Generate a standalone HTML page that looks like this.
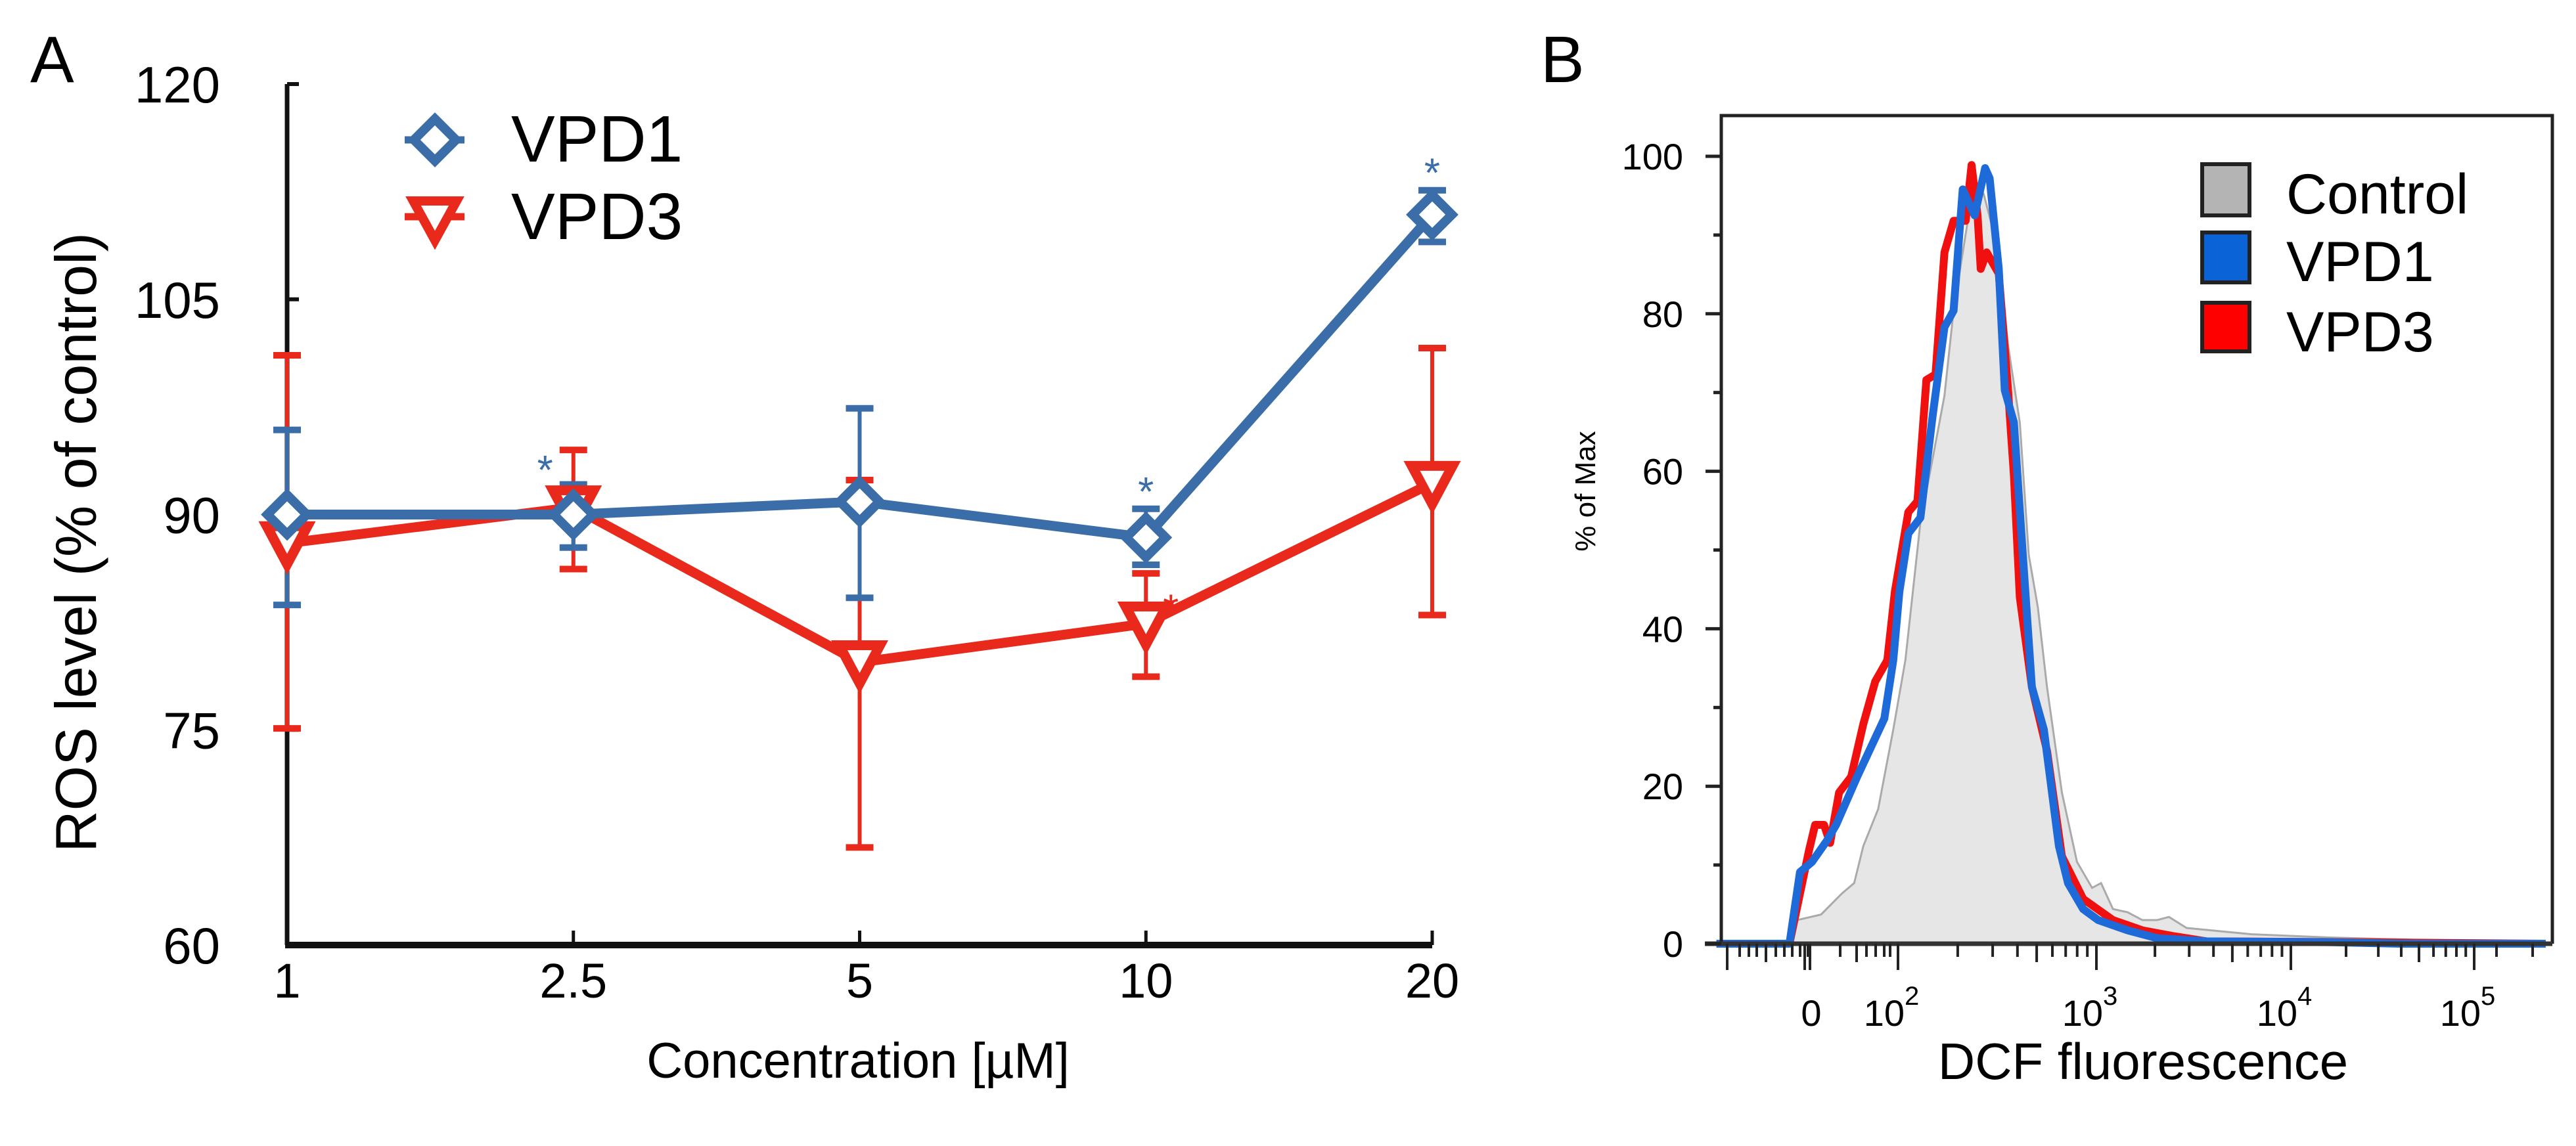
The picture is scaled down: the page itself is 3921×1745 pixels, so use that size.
<!DOCTYPE html>
<html><head><meta charset="utf-8"><style>
html,body{margin:0;padding:0;background:#fff;}
svg{display:block;font-family:"Liberation Sans",Arial,sans-serif;}
</style></head><body>
<svg id="fig" width="3921" height="1745" viewBox="0 0 3921 1745" xmlns="http://www.w3.org/2000/svg">
<rect width="3921" height="1745" fill="#fff"/>
<g id="panelA">
  <text x="46" y="125" font-size="100">A</text>
  <text transform="translate(146,826) rotate(-90)" text-anchor="middle" font-size="88">ROS level (% of control)</text>
  <text x="1306" y="1641" text-anchor="middle" font-size="76">Concentration [µM]</text>
  <g id="aAxes"></g>
  <g id="aSeries"></g>
  <g>
    <line x1="616" y1="213" x2="707" y2="213" stroke="#3b6ea8" stroke-width="11"/>
    <polygon points="662,181 694,213 662,245 630,213" fill="#fff" stroke="#3b6ea8" stroke-width="14"/>
    <text x="778" y="246" font-size="100">VPD1</text>
    <line x1="616" y1="330" x2="707" y2="330" stroke="#e8291c" stroke-width="11"/>
    <polygon points="629,306 695,306 662,366" fill="#fff" stroke="#e8291c" stroke-width="14"/>
    <text x="778" y="364" font-size="100">VPD3</text>
  </g>
</g>
<g id="panelB">
  <text x="2345" y="125" font-size="100">B</text>
  <text transform="translate(2428,748) rotate(-90)" text-anchor="middle" font-size="44">% of Max</text>
  <text x="3262" y="1643" text-anchor="middle" font-size="78">DCF fluorescence</text>
  <g id="bHist"></g>
  <g id="bAxes"></g>
  <g>
    <rect x="3352" y="250" width="72" height="78" fill="#b4b4b4" stroke="#222" stroke-width="6"/>
    <text x="3480" y="325" font-size="86">Control</text>
    <rect x="3352" y="354" width="72" height="76" fill="#0a64d8" stroke="#222" stroke-width="6"/>
    <text x="3480" y="428" font-size="86">VPD1</text>
    <rect x="3352" y="461" width="72" height="74" fill="#ff0000" stroke="#222" stroke-width="6"/>
    <text x="3480" y="535" font-size="86">VPD3</text>
  </g>
</g>
</svg>
<script>
// ---------- Panel A data ----------
const concLabels = ["1","2.5","5","10","20"];
const vpd1Mean = [90.0, 90.0, 90.9, 88.4, 110.9];
const vpd1Hi   = [95.9, 92.1, 97.4, 90.4, 112.6];
const vpd1Lo   = [83.7, 87.7, 84.2, 86.5, 109.0];
const vpd3Mean = [88.0, 90.5, 79.7, 82.4, 92.2];
const vpd3Hi   = [101.1, 94.5, 92.4, 85.9, 101.6];
const vpd3Lo   = [75.1, 86.2, 66.8, 78.7, 83.0];
const yTicksA  = [60, 75, 90, 105, 120];
// ---------- Panel B data (x in log10 fluorescence units, y in % of max) ----------
const ctrlX = [1.453,1.491,1.612,1.718,1.779,1.825,1.900,1.976,2.037,2.113,2.174,2.234,2.280,2.356,2.401,2.432,2.508,2.553,2.614,2.659,2.705,2.751,2.826,2.902,2.978,3.024,3.085,3.160,3.236,3.312,3.373,3.464,3.8,4.2,4.67,4.75];
const ctrlY = [0,3,3.7,6.4,7.7,12.4,17.1,27.2,36,53.5,61.5,69.6,80.4,92.5,96.5,95.2,87.8,76.3,66.2,49.4,42.7,32.6,19.2,10.4,7.1,7.7,4.4,4.0,3.0,3.0,3.4,2.0,1.2,0.8,0.5,0];
const redX = [1.085,1.453,1.551,1.582,1.627,1.658,1.703,1.764,1.825,1.885,1.946,1.984,2.052,2.098,2.143,2.189,2.234,2.280,2.341,2.371,2.401,2.417,2.447,2.508,2.553,2.584,2.614,2.675,2.751,2.826,2.933,3.085,3.236,3.388,3.567,4.3,5.39];
const redY = [0,0,11.8,15.1,15.1,12.8,19.2,21.2,27.9,33.3,36,44.7,54.8,56.2,71.6,72.3,87.8,91.8,91.8,98.9,92.5,85.7,87.8,85.1,70.9,59.5,44,32.6,24.5,11.1,5.7,3.0,1.7,1.0,0.3,0.2,0];
const blueX = [1.085,1.453,1.506,1.567,1.642,1.688,1.794,1.931,1.976,2.007,2.052,2.113,2.174,2.234,2.280,2.326,2.386,2.439,2.462,2.508,2.538,2.584,2.629,2.675,2.735,2.811,2.857,2.933,3.009,3.160,3.312,3.567,4.2,4.6,5.39];
const blueY = [0,0,9.1,10.4,13.1,15.1,21.2,28.6,36,44.7,52.1,54.1,66.9,78.3,80.4,95.8,92.5,98.5,97.2,85.7,70.3,66.2,49.4,32.6,27.2,12.4,7.7,4.4,3.0,1.7,0.7,0.3,0.2,0,0];
const yTicksB = [0,20,40,60,80,100];
const xMajorB = [2,3,4,5];

const NS = "http://www.w3.org/2000/svg";
function mk(tag, attrs, parent){ const e=document.createElementNS(NS,tag); for(const k in attrs) e.setAttribute(k,attrs[k]); parent.appendChild(e); return e; }

// ---------- Panel A ----------
const aL=437, aR=2180, aTop=128, aBot=1439;
const ax = i => aL + i*(aR-aL)/(concLabels.length-1);
const ay = v => aBot - (v-60)*(aBot-aTop)/60;
const gA = document.getElementById('aAxes');
const yAxA = mk('line',{x1:aL,y1:aTop,x2:aL,y2:aBot,stroke:'#111','stroke-width':7},gA);


const xAxA = mk('line',{x1:aL-3,y1:aBot,x2:aR,y2:aBot,stroke:'#111','stroke-width':10},gA);


yTicksA.forEach(v=>{
  mk('line',{x1:aL,y1:ay(v),x2:aL+18,y2:ay(v),stroke:'#111','stroke-width':6},gA);
  const t=mk('text',{x:335,y:ay(v)+28,'text-anchor':'end','font-size':78},gA);
  t.textContent=v;
  
  
});
concLabels.forEach((c,i)=>{
  if(i>0) mk('line',{x1:ax(i),y1:aBot,x2:ax(i),y2:aBot-22,stroke:'#111','stroke-width':5},gA);
  const t=mk('text',{x:ax(i),y:1519,'text-anchor':'middle','font-size':74},gA);
  t.textContent=c;
  
  
});
const gS=document.getElementById('aSeries');
function errBars(mean,hi,lo,col,name){
  mean.forEach((m,i)=>{
    const g=mk('g',{},gS);
    
    
    mk('line',{x1:ax(i),y1:ay(hi[i]),x2:ax(i),y2:ay(lo[i]),stroke:col,'stroke-width':6},g);
    [hi[i],lo[i]].forEach(v=>mk('line',{x1:ax(i)-21,y1:ay(v),x2:ax(i)+21,y2:ay(v),stroke:col,'stroke-width':10},g));
  });
}
function seriesLine(mean,col,name){
  const p=mk('polyline',{points:mean.map((m,i)=>ax(i)+','+ay(m)).join(' '),fill:'none',stroke:col,'stroke-width':15,'stroke-linejoin':'round'},gS);
  
  
}
const BLUE='#3b6ea8', RED='#e8291c';
errBars(vpd3Mean,vpd3Hi,vpd3Lo,RED,'vpd3');
errBars(vpd1Mean,vpd1Hi,vpd1Lo,BLUE,'vpd1');
seriesLine(vpd3Mean,RED,'vpd3');
vpd3Mean.forEach((m,i)=>{
  const x=ax(i), y=ay(m);
  const tri=mk('polygon',{points:`${x-31},${y-26} ${x+31},${y-26} ${x},${y+32}`,fill:'#fff',stroke:RED,'stroke-width':15,'stroke-linejoin':'miter'},gS);
  
  
});
seriesLine(vpd1Mean,BLUE,'vpd1');
vpd1Mean.forEach((m,i)=>{
  const x=ax(i), y=ay(m);
  const d=mk('polygon',{points:`${x},${y-30} ${x+30},${y} ${x},${y+30} ${x-30},${y}`,fill:'#fff',stroke:BLUE,'stroke-width':14},gS);
  
  
});
// significance asterisks
const starIdx1=[1,3,4], starIdx3=[3];
starIdx1.forEach(i=>{
  const off = i===1 ? -43 : 0;
  const top = i===1 ? vpd1Hi[i]+1.4 : vpd1Hi[i]+1.6;
  const s=mk('text',{x:ax(i)+off,y:ay(top)+30,'text-anchor':'middle','font-size':62,fill:BLUE},gS);
  s.textContent='*';
  
  
});
starIdx3.forEach(i=>{
  const s=mk('text',{x:ax(i)+38,y:ay(vpd3Mean[i]+1.6)+34,'text-anchor':'middle','font-size':62,fill:RED},gS);
  s.textContent='*';
  
  
});

// ---------- Panel B ----------
const bL=2620, bR=3885, bTop=176, bBot=1437;
const by = v => bBot - v*(bBot-238)/100;
const kD=[2,3,4,5], kX=[2889,3191,3487,3766];
function bx(d){
  if(d<=kD[0]) return kX[0]-(kD[0]-d)*302;
  for(let i=0;i<kD.length-1;i++) if(d<=kD[i+1]) return kX[i]+(d-kD[i])*(kX[i+1]-kX[i]);
  return kX[3]+(d-5)*279;
}
const gH=document.getElementById('bHist');
function pts(X,Y){ return X.map((d,i)=>bx(d).toFixed(1)+','+by(Y[i]).toFixed(1)).join(' '); }
const ctrlFill=mk('polygon',{points:pts(ctrlX,ctrlY),fill:'#e6e6e6',stroke:'#aaaaaa','stroke-width':3},gH);


const redLine=mk('polyline',{points:pts(redX,redY),fill:'none',stroke:'#f01010','stroke-width':12,'stroke-linejoin':'round'},gH);


const blueLine=mk('polyline',{points:pts(blueX,blueY),fill:'none',stroke:'#1e6ad8','stroke-width':12,'stroke-linejoin':'round'},gH);



const gB=document.getElementById('bAxes');
const frame=mk('path',{d:`M${bL},${bBot} L${bL},${bTop} L${bR},${bTop} L${bR},${bBot}`,fill:'none',stroke:'#222','stroke-width':5},gB);


const xAxB=mk('line',{x1:bL-25,y1:bBot,x2:bR,y2:bBot,stroke:'#333','stroke-width':7},gB);


for(let v=0; v<=100; v+=10){
  mk('line',{x1:bL,y1:by(v),x2:bL-(v%20===0?24:12),y2:by(v),stroke:'#222','stroke-width':5},gB);
}
yTicksB.forEach(v=>{
  const t=mk('text',{x:2562,y:by(v)+20,'text-anchor':'end','font-size':56},gB);
  t.textContent=v;
  
  
});
const tickX=[];
[2629].forEach(x=>tickX.push([x,40]));
[2648,2662,2674,2688,2703,2716,2728,2740,2752].forEach(x=>tickX.push([x,x===2688?28:20]));
[2747,2755].forEach(x=>tickX.push([x,40]));
[2801,2826,2841,2855,2868,2877].forEach(x=>tickX.push([x,x===2826?28:20]));
xMajorB.forEach(d=>{
  tickX.push([bx(d),40]);
  if(d<5) for(let k=2;k<=9;k++) tickX.push([bx(d+Math.log10(k)),k===5?28:20]);
});
[3800,3855].forEach(x=>tickX.push([x,20]));
tickX.forEach(([x,l])=>mk('line',{x1:x,y1:bBot,x2:x,y2:bBot+l,stroke:'#222','stroke-width':4},gB));
const l0=mk('text',{x:2757,y:1562,'text-anchor':'middle','font-size':56},gB);
l0.textContent='0';


xMajorB.forEach(d=>{
  const t=mk('text',{x:bx(d)-10,y:1562,'text-anchor':'middle','font-size':56},gB);
  
  
  t.appendChild(document.createTextNode('10'));
  const sp=mk('tspan',{dy:-32,'font-size':40},t);
  sp.textContent=String(d);
});
</script>
</body></html>
